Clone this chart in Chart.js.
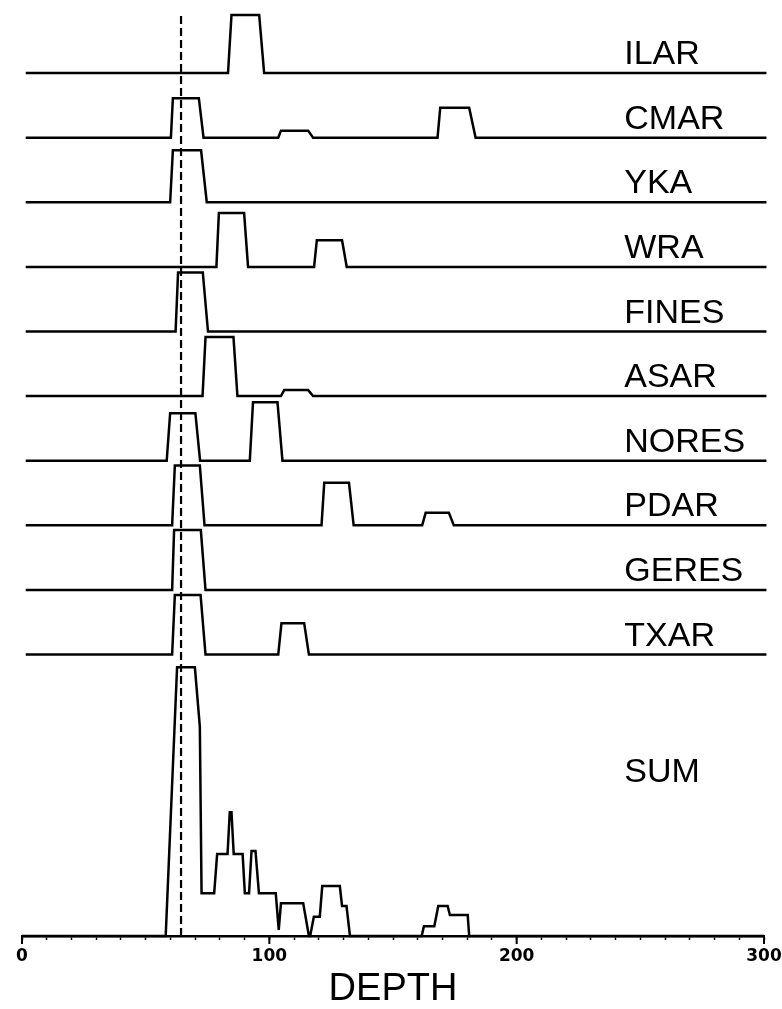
<!DOCTYPE html>
<html>
<head>
<meta charset="utf-8">
<title>Depth stack</title>
<script src="https://cdn.jsdelivr.net/npm/chart.js@4.4.0/dist/chart.umd.min.js"></script>
<style>
    html, body { margin: 0; padding: 0; background: #fff; }
    .canvas { position: relative; width: 782px; height: 1009px; }
</style>
</head>
<body>
<div class="canvas"><canvas id="myChart"></canvas></div>
<script>
(function () {

    // stations, top to bottom
    const stations = ['ILAR', 'CMAR', 'YKA', 'WRA', 'FINES', 'ASAR', 'NORES', 'PDAR', 'GERES', 'TXAR'];

    // [depth, amplitude] breakpoints of each trace
    const ilar = [[1.5, 0], [83.3, 0], [84.7, 58], [95.9, 58], [97.9, 0], [301, 0]];
    const cmar = [[1.5, 0], [60.2, 0], [61.0, 39.5], [71.5, 39.5], [73.4, 0], [103.6, 0], [104.7, 7], [115.7, 7], [117.7, 0],
        [168.0, 0], [169.1, 30], [180.8, 30], [183.4, 0], [301, 0]];
    const yka = [[1.5, 0], [59.9, 0], [61.0, 52], [72.4, 52], [74.7, 0], [301, 0]];
    const wra = [[1.5, 0], [78.6, 0], [79.6, 54], [89.8, 54], [91.4, 0], [118.1, 0], [119.2, 26.7], [129.4, 26.7], [131.3, 0], [301, 0]];
    const fines = [[1.5, 0], [62.1, 0], [63.1, 59], [73.1, 59], [75.2, 0], [301, 0]];
    const asar = [[1.5, 0], [73.0, 0], [74.2, 59], [85.5, 59], [87.1, 0], [104.7, 0], [106.0, 6], [115.7, 6], [117.7, 0], [301, 0]];
    const nores = [[1.5, 0], [58.5, 0], [59.9, 47.6], [70.1, 47.6], [72.0, 0], [92.1, 0], [93.4, 58.6], [103.3, 58.6], [105.3, 0], [301, 0]];
    const pdar = [[1.5, 0], [60.7, 0], [61.8, 59.9], [71.9, 59.9], [73.8, 0], [121.1, 0], [122.2, 42.6], [132.2, 42.6], [134.1, 0],
        [161.8, 0], [163.2, 12.5], [172.6, 12.5], [174.6, 0], [301, 0]];
    const geres = [[1.5, 0], [60.7, 0], [61.5, 59.9], [72.3, 59.9], [74.2, 0], [301, 0]];
    const txar = [[1.5, 0], [60.7, 0], [61.8, 59.6], [72.2, 59.6], [74.2, 0], [103.6, 0], [104.9, 31.3], [114.1, 31.3], [116.0, 0], [301, 0]];

    const sum = [[0, 0], [58.1, 0], [62.7, 268.7], [69.9, 268.7], [71.9, 209.3], [72.6, 42.7], [77.7, 42.7], [78.9, 82], [83.1, 82],
        [84.0, 123.7], [84.7, 123.7], [85.6, 82], [89.2, 82], [90.1, 42.7], [91.8, 42.7], [92.8, 85], [94.4, 85], [95.8, 42.7],
        [102.6, 42.7], [103.8, 6], [104.7, 32.7], [113.7, 32.7], [116.0, 0], [116.5, 0], [118.0, 19.3], [120.4, 19.3],
        [121.4, 50], [128.5, 50], [129.4, 30], [131.2, 30], [132.6, 0], [161.6, 0], [162.5, 9.7], [166.7, 9.7],
        [168.3, 30], [172.1, 30], [173.0, 21], [180.2, 21], [180.8, 0], [300, 0]];

    const traces = [ilar, cmar, yka, wra, fines, asar, nores, pdar, geres, txar];
    const depthTicks = [0, 100, 200, 300];
    const pickDepth = 64.3;

    // vertical layout of the stack (y units are pixels above the axis)
    const plotTop = 936;
    const lowestBase = 281.4;
    const spacing = 64.62;
    const labelDepth = 243.5;
    const sumLabelLevel = 154;
    const baseOf = i => lowestBase + (stations.length - 1 - i) * spacing;

    const lineStyle = {
        borderColor: '#000',
        borderWidth: 2.5,
        pointRadius: 0,
        tension: 0,
        fill: false,
        clip: false,
        borderJoinStyle: 'miter'
    };

    const datasets = traces.map((tr, i) => Object.assign({
        label: stations[i],
        data: tr.map(p => ({ x: p[0], y: baseOf(i) + p[1] }))
    }, lineStyle));

    datasets.push(Object.assign({
        label: 'SUM',
        data: sum.map(p => ({ x: p[0], y: p[1] }))
    }, lineStyle));

    // dashed marker at the picked depth
    datasets.push(Object.assign({}, lineStyle, {
        label: 'pick',
        data: [{ x: pickDepth, y: 0 }, { x: pickDepth, y: 922 }],
        borderWidth: 2.2,
        borderDash: [8, 4]
    }));

    // station names on the right hand side
    const stationLabels = {
        id: 'stationLabels',
        afterDatasetsDraw(chart) {
            const { ctx, scales: { x, y } } = chart;
            ctx.save();
            ctx.font = '34px "Liberation Sans", Arial, sans-serif';
            ctx.fillStyle = '#000';
            ctx.textAlign = 'left';
            ctx.textBaseline = 'alphabetic';
            stations.forEach((name, i) => {
                ctx.fillText(name, x.getPixelForValue(labelDepth), y.getPixelForValue(baseOf(i)) - 9);
            });
            ctx.fillText('SUM', x.getPixelForValue(labelDepth), y.getPixelForValue(sumLabelLevel));
            ctx.restore();
        }
    };

    // longer marks at the labelled depths
    const majorTicks = {
        id: 'majorTicks',
        afterDraw(chart) {
            const { ctx, chartArea, scales: { x } } = chart;
            ctx.save();
            ctx.strokeStyle = '#000';
            ctx.lineWidth = 2;
            depthTicks.forEach(v => {
                const px = x.getPixelForValue(v);
                ctx.beginPath();
                ctx.moveTo(px, chartArea.bottom);
                ctx.lineTo(px, chartArea.bottom + 8);
                ctx.stroke();
            });
            ctx.restore();
        }
    };

    const ctx = document.getElementById('myChart').getContext('2d');
    new Chart(ctx, {
        type: 'line',
        data: { datasets: datasets },
        options: {
            responsive: true,
            maintainAspectRatio: false,
            animation: false,
            events: [],
            layout: { padding: { left: 22, right: 18, top: 0, bottom: 0 } },
            plugins: {
                legend: { display: false },
                tooltip: { enabled: false }
            },
            scales: {
                x: {
                    type: 'linear',
                    min: 0,
                    max: 300,
                    afterFit: scale => {
                        scale.height = 1009 - plotTop;
                        scale.paddingLeft = 0;
                        scale.paddingRight = 0;
                    },
                    border: { display: true, color: '#000', width: 2.5 },
                    grid: { drawOnChartArea: false, drawTicks: true, tickLength: 4, tickColor: '#000', tickWidth: 1.5 },
                    ticks: {
                        stepSize: 10,
                        autoSkip: false,
                        maxRotation: 0,
                        padding: 6,
                        color: '#000',
                        font: { family: '"DejaVu Sans", sans-serif', size: 17, weight: 'bold' },
                        callback: v => (v % 100 === 0 ? String(v) : '')
                    },
                    title: {
                        display: true,
                        text: 'DEPTH',
                        color: '#000',
                        padding: { top: 0, bottom: 0 },
                        font: { family: '"Liberation Sans", Arial, sans-serif', size: 38, lineHeight: 1 }
                    }
                },
                y: {
                    type: 'linear',
                    display: false,
                    min: 0,
                    max: plotTop
                }
            }
        },
        plugins: [stationLabels, majorTicks]
    });

})();
</script>
</body>
</html>
